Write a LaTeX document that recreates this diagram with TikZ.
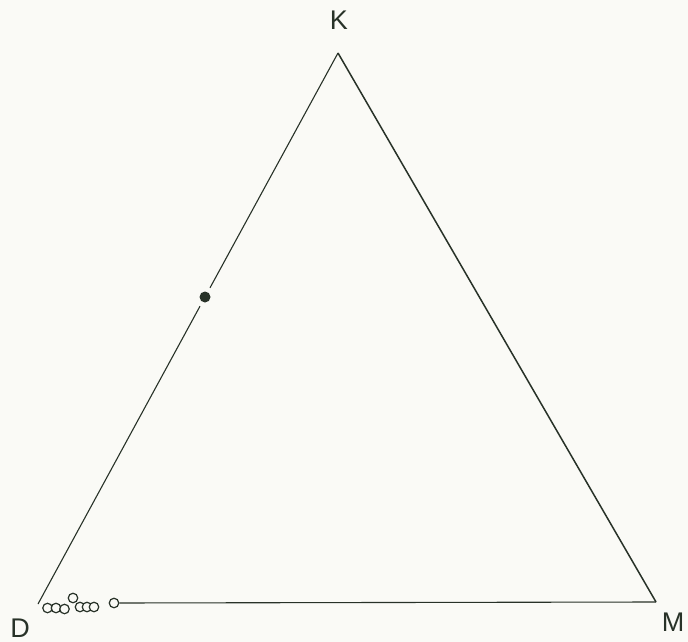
\documentclass[tikz,border=0pt]{standalone}
\usepackage{fontspec}
\setmainfont{Liberation Sans}
\usepackage{tikz}
\usetikzlibrary{positioning, calc}
\definecolor{inkline}{RGB}{40,50,40}
\definecolor{paper}{RGB}{250,250,246}
\newcommand{\cornerfont}{\fontsize{27pt}{27pt}\selectfont}
\tikzset{
    cornerlabel/.style={inner sep=0pt, text=inkline, font=\cornerfont},
    triedge/.style={draw=inkline, line width=1.5pt},
    triedgethin/.style={draw=inkline, line width=1.1pt},
    openpt/.style={circle, draw=inkline, line width=1.2pt, fill=paper, minimum size=9.5pt, inner sep=0pt},
    fullpt/.style={circle, fill=inkline, minimum size=11pt, inner sep=0pt, outer sep=5pt}
}
\begin{document}
\begin{tikzpicture}[x=1pt, y=-1pt]
    \fill[paper] (0,0) rectangle (688,642);
    \useasboundingbox (0,0) rectangle (688,642);

    % Corners of the triangle
    \coordinate (k) at (338,53);
    \coordinate (d) at (38,604);
    \coordinate (m) at (656,602);
    \node[cornerlabel] (K) at (339,20) {K};
    \node[cornerlabel] (D) at (20,628) {D};
    \node[cornerlabel] (M) at (673,622) {M};

    % Single point on the D--K side
    \node[fullpt] (p) at (205,297) {};

    % Points clustered near D
    \node[openpt] (c1) at (47.5,608) {};
    \node[openpt] (c2) at (56,608) {};
    \node[openpt] (c3) at (64.5,609) {};
    \node[openpt] (c4) at (73,598) {};
    \node[openpt] (c5) at (80,607) {};
    \node[openpt] (c6) at (87,607) {};
    \node[openpt] (c7) at (94,607) {};
    \node[openpt] (c8) at (114,603) {};

    % Sides
    \draw[triedgethin] (d) -- (p);
    \draw[triedgethin] (p) -- (k);
    \draw[triedge] (k) -- (m);
    \draw[triedgethin] (c8) -- (m);
\end{tikzpicture}
\end{document}
